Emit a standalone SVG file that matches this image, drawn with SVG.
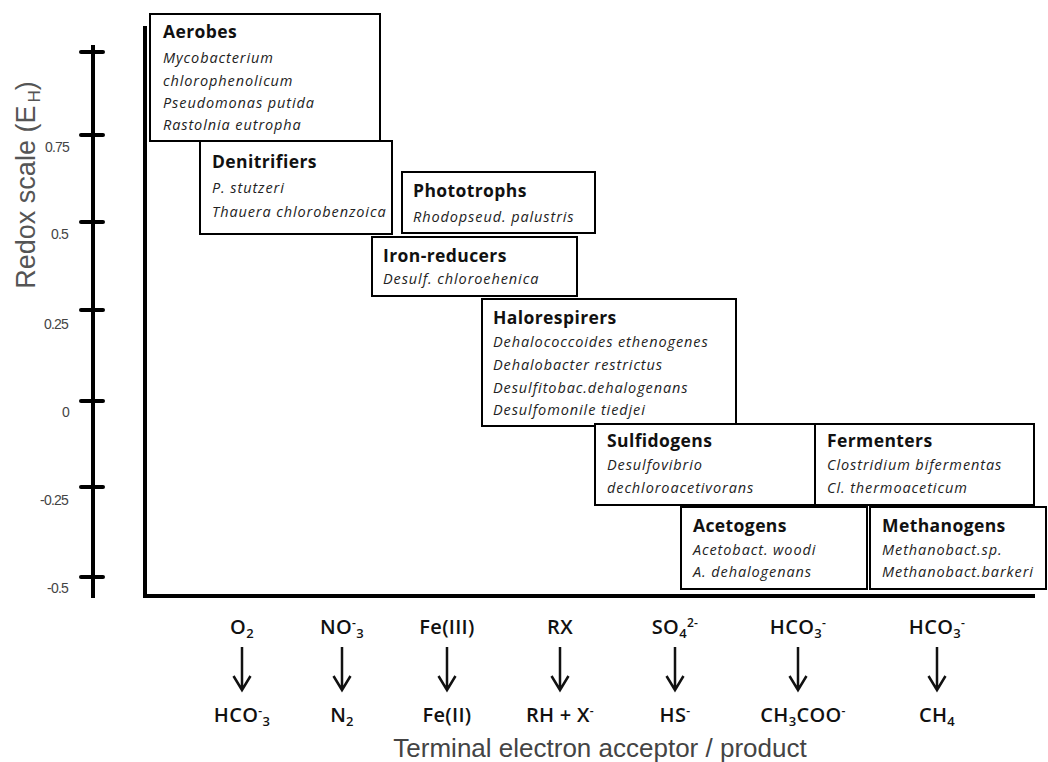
<svg xmlns="http://www.w3.org/2000/svg" width="1048" height="762" viewBox="0 0 1048 762">
<style>
.box{fill:#fff;stroke:#000;stroke-width:2}
.t{font-family:"Open Sans","Noto Sans",sans-serif;font-weight:bold;font-size:17.5px;letter-spacing:0.4px;fill:#111}
.s{font-family:"Open Sans","Noto Sans",sans-serif;font-style:italic;font-size:14.5px;letter-spacing:0.9px;fill:#222}
.lab{font-family:"Open Sans","Noto Sans",sans-serif;font-weight:600;font-size:20px;letter-spacing:0.3px;fill:#111;text-anchor:middle}
.sub{font-size:13px}
.sup{font-size:12px}
.tick{font-family:"Liberation Sans",Arial,sans-serif;font-size:14px;fill:#444;text-anchor:end;letter-spacing:-0.8px}
.axis{stroke:#000;stroke-width:4;fill:none}
.arr{stroke:#111;stroke-width:2.5;fill:none}
</style>
<rect width="1048" height="762" fill="#fff"/>
<g id="redox-scale">
<line class="axis" x1="93" y1="45" x2="93" y2="598"/>
<g stroke="#000" stroke-width="4" stroke-linecap="round">
<line x1="81" y1="52" x2="103" y2="52"/>
<line x1="81" y1="135" x2="103" y2="135"/>
<line x1="81" y1="222" x2="103" y2="222"/>
<line x1="81" y1="310" x2="103" y2="310"/>
<line x1="81" y1="401" x2="103" y2="401"/>
<line x1="81" y1="487" x2="103" y2="487"/>
<line x1="81" y1="577" x2="103" y2="577"/>
</g>
<text class="tick" x="69" y="152">0.75</text>
<text class="tick" x="68" y="239">0.5</text>
<text class="tick" x="68" y="329">0.25</text>
<text class="tick" x="69" y="417">0</text>
<text class="tick" x="68" y="505">-0.25</text>
<text class="tick" x="68" y="593">-0.5</text>
<text transform="translate(35,185) rotate(-90)" font-family="Liberation Sans,Arial,sans-serif" font-size="27" fill="#555" text-anchor="middle">Redox scale (E<tspan font-size="17" dy="5" dx="3">H</tspan><tspan dy="-5">)</tspan></text>
</g>
<g id="axes">
<line class="axis" x1="145" y1="26" x2="145" y2="597"/>
<line class="axis" x1="143" y1="596" x2="1035" y2="596"/>
</g>
<g id="aerobes">
<rect class="box" x="150" y="14" width="230" height="127"/>
<text class="t" x="163" y="38">Aerobes</text>
<text class="s" x="163" y="63">Mycobacterium</text>
<text class="s" x="163" y="86">chlorophenolicum</text>
<text class="s" x="163" y="108">Pseudomonas putida</text>
<text class="s" x="163" y="130">Rastolnia eutropha</text>
</g>
<g id="denitrifiers">
<rect class="box" x="200" y="141" width="192" height="93"/>
<text class="t" x="212" y="168">Denitrifiers</text>
<text class="s" x="212" y="193">P. stutzeri</text>
<text class="s" x="212" y="217">Thauera chlorobenzoica</text>
</g>
<g id="phototrophs">
<rect class="box" x="402" y="172" width="193" height="61"/>
<text class="t" x="413" y="197">Phototrophs</text>
<text class="s" x="413" y="222">Rhodopseud. palustris</text>
</g>
<g id="iron-reducers">
<rect class="box" x="372" y="237" width="205" height="59"/>
<text class="t" x="383" y="262">Iron-reducers</text>
<text class="s" x="383" y="284">Desulf. chloroehenica</text>
</g>
<g id="halorespirers">
<rect class="box" x="482" y="299" width="254" height="127"/>
<text class="t" x="493" y="324">Halorespirers</text>
<text class="s" x="493" y="347">Dehalococcoides ethenogenes</text>
<text class="s" x="493" y="370">Dehalobacter restrictus</text>
<text class="s" x="493" y="393">Desulfitobac.dehalogenans</text>
<text class="s" x="493" y="415">Desulfomonile tiedjei</text>
</g>
<g id="sulfidogens">
<rect class="box" x="595" y="424" width="220" height="81"/>
<text class="t" x="607" y="447">Sulfidogens</text>
<text class="s" x="607" y="470">Desulfovibrio</text>
<text class="s" x="607" y="493">dechloroacetivorans</text>
</g>
<g id="fermenters">
<rect class="box" x="815" y="424" width="219" height="81"/>
<text class="t" x="827" y="447">Fermenters</text>
<text class="s" x="827" y="470">Clostridium bifermentas</text>
<text class="s" x="827" y="493">Cl. thermoaceticum</text>
</g>
<g id="acetogens">
<rect class="box" x="681" y="507" width="186" height="82"/>
<text class="t" x="693" y="532">Acetogens</text>
<text class="s" x="693" y="555">Acetobact. woodi</text>
<text class="s" x="693" y="577">A. dehalogenans</text>
</g>
<g id="methanogens">
<rect class="box" x="870" y="507" width="176" height="82"/>
<text class="t" x="882" y="532">Methanogens</text>
<text class="s" x="882" y="555">Methanobact.sp.</text>
<text class="s" x="882" y="577">Methanobact.barkeri</text>
</g>
<g id="acceptors">
<text class="lab" x="242" y="634">O<tspan class="sub" dy="4">2</tspan></text>
<text class="lab" x="342" y="634">NO<tspan class="sup" dy="-7">-</tspan><tspan class="sub" dy="11">3</tspan></text>
<text class="lab" x="447" y="634">Fe(III)</text>
<text class="lab" x="560" y="634">RX</text>
<text class="lab" x="675" y="634">SO<tspan class="sub" dy="4">4</tspan><tspan class="sup" dy="-11">2-</tspan></text>
<text class="lab" x="798" y="634">HCO<tspan class="sub" dy="4">3</tspan><tspan class="sup" dy="-11">-</tspan></text>
<text class="lab" x="937" y="634">HCO<tspan class="sub" dy="4">3</tspan><tspan class="sup" dy="-11">-</tspan></text>
</g>
<g id="products">
<text class="lab" x="242" y="722">HCO<tspan class="sup" dy="-7">-</tspan><tspan class="sub" dy="11">3</tspan></text>
<text class="lab" x="342" y="722">N<tspan class="sub" dy="4">2</tspan></text>
<text class="lab" x="447" y="722">Fe(II)</text>
<text class="lab" x="560" y="722">RH + X<tspan class="sup" dy="-7">-</tspan></text>
<text class="lab" x="675" y="722">HS<tspan class="sup" dy="-7">-</tspan></text>
<text class="lab" x="803" y="722">CH<tspan class="sub" dy="4">3</tspan><tspan dy="-4">COO</tspan><tspan class="sup" dy="-7">-</tspan></text>
<text class="lab" x="937" y="722">CH<tspan class="sub" dy="4">4</tspan></text>
</g>
<g id="connectors">
<path class="arr" d="M242 647V689M233.5 676L242 690L250.5 676"/>
<path class="arr" d="M342 647V689M333.5 676L342 690L350.5 676"/>
<path class="arr" d="M447 647V689M438.5 676L447 690L455.5 676"/>
<path class="arr" d="M560 647V689M551.5 676L560 690L568.5 676"/>
<path class="arr" d="M675 647V689M666.5 676L675 690L683.5 676"/>
<path class="arr" d="M798 647V689M789.5 676L798 690L806.5 676"/>
<path class="arr" d="M937 647V689M928.5 676L937 690L945.5 676"/>
</g>
<text x="600" y="757" font-family="Liberation Sans,Arial,sans-serif" font-size="26" fill="#444" text-anchor="middle">Terminal electron acceptor / product</text>
</svg>
